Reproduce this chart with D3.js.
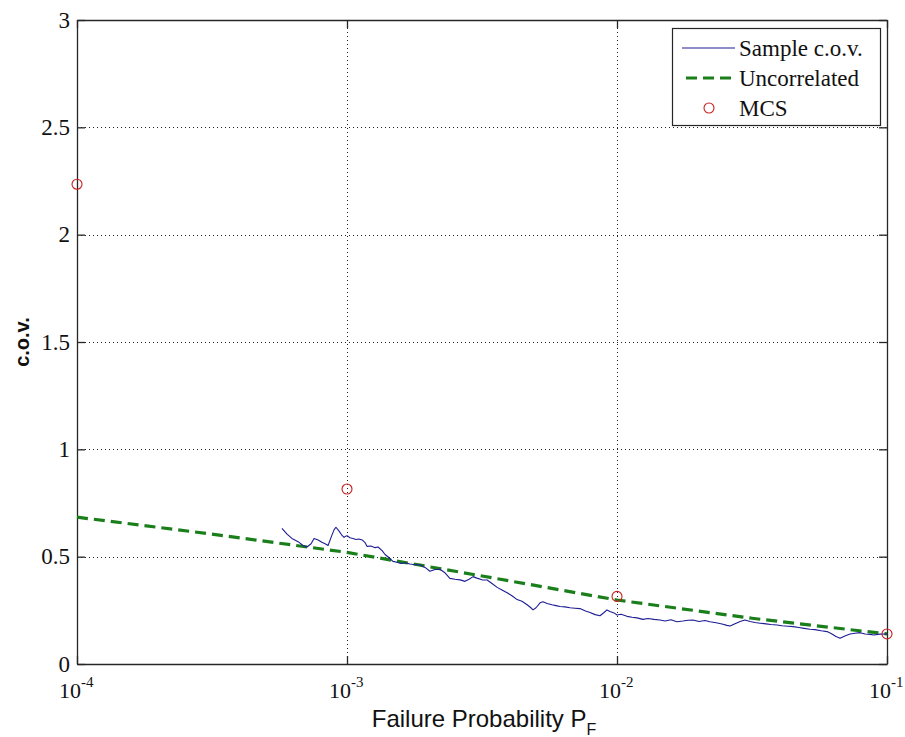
<!DOCTYPE html>
<html>
<head>
<meta charset="utf-8">
<script src="https://cdn.jsdelivr.net/npm/d3@7"></script>
<style>
  html, body { margin: 0; padding: 0; background: #fff; }
  svg { display: block; }
</style>
</head>
<body>
<svg id="chart" width="905" height="737"></svg>
<script>
// Sample c.o.v. of the failure probability estimator (exponent of P_F, c.o.v.)
const sampleLogPF = [
  -3.241, -3.222, -3.204, -3.181, -3.163, -3.148, -3.133, -3.122, -3.107, -3.093,
  -3.081, -3.070, -3.059, -3.048, -3.041, -3.030, -3.019, -3.011, -3.000, -2.989,
  -2.978, -2.967, -2.956, -2.944, -2.933, -2.926, -2.911, -2.896, -2.885, -2.870,
  -2.859, -2.844, -2.830, -2.815, -2.800, -2.785, -2.767, -2.748, -2.730, -2.711,
  -2.693, -2.674, -2.656, -2.637, -2.619, -2.600, -2.581, -2.563, -2.548, -2.533,
  -2.519, -2.500, -2.481, -2.463, -2.444, -2.426, -2.407, -2.389, -2.370, -2.352,
  -2.333, -2.319, -2.311, -2.300, -2.285, -2.274, -2.259, -2.241, -2.226, -2.211,
  -2.193, -2.174, -2.156, -2.137, -2.119, -2.100, -2.081, -2.063, -2.048, -2.037,
  -2.026, -2.011, -2.000, -1.985, -1.963, -1.944, -1.926, -1.904, -1.885, -1.863,
  -1.841, -1.822, -1.800, -1.778, -1.756, -1.737, -1.719, -1.696, -1.674, -1.656,
  -1.633, -1.611, -1.593, -1.581, -1.563, -1.544, -1.526, -1.507, -1.489, -1.470,
  -1.448, -1.430, -1.407, -1.389, -1.367, -1.348, -1.326, -1.307, -1.285, -1.267,
  -1.244, -1.222, -1.207, -1.189, -1.174, -1.156, -1.137, -1.119, -1.100, -1.081,
  -1.063, -1.048, -1.026, -1.000
];
const sampleCov = [
  0.632, 0.605, 0.585, 0.570, 0.552, 0.545, 0.560, 0.585, 0.578, 0.567,
  0.560, 0.552, 0.590, 0.625, 0.637, 0.620, 0.600, 0.590, 0.598, 0.588,
  0.585, 0.580, 0.582, 0.578, 0.565, 0.548, 0.550, 0.542, 0.545, 0.528,
  0.510, 0.495, 0.478, 0.474, 0.468, 0.472, 0.466, 0.462, 0.462, 0.450,
  0.432, 0.440, 0.441, 0.425, 0.399, 0.395, 0.392, 0.385, 0.395, 0.407,
  0.400, 0.392, 0.391, 0.375, 0.357, 0.345, 0.332, 0.318, 0.300, 0.292,
  0.276, 0.262, 0.252, 0.262, 0.285, 0.290, 0.282, 0.276, 0.272, 0.268,
  0.266, 0.262, 0.260, 0.258, 0.248, 0.240, 0.230, 0.225, 0.240, 0.252,
  0.245, 0.238, 0.228, 0.232, 0.222, 0.218, 0.215, 0.208, 0.212, 0.208,
  0.205, 0.200, 0.206, 0.197, 0.200, 0.204, 0.205, 0.198, 0.203, 0.197,
  0.192, 0.186, 0.180, 0.177, 0.188, 0.198, 0.205, 0.198, 0.193, 0.190,
  0.187, 0.184, 0.182, 0.178, 0.176, 0.174, 0.170, 0.166, 0.162, 0.160,
  0.155, 0.151, 0.142, 0.128, 0.120, 0.130, 0.140, 0.143, 0.146, 0.140,
  0.138, 0.135, 0.139, 0.140
];

// Uncorrelated-samples c.o.v.
const uncorrLogPF = [-4, -3.5, -3, -2.5, -2, -1.5, -1];
const uncorrCov   = [0.684, 0.605, 0.520, 0.410, 0.298, 0.213, 0.140];

// Direct Monte Carlo simulation results
const mcsPF  = [1e-4, 1e-3, 1e-2, 1e-1];
const mcsCov = [2.235, 0.815, 0.315, 0.140];

// Axis ticks
const xTickExps = [-4, -3, -2, -1];
const yTicks = [0, 0.5, 1, 1.5, 2, 2.5, 3];
const yTickLabels = ["0", "0.5", "1", "1.5", "2", "2.5", "3"];

const legendLabels = ["Sample c.o.v.", "Uncorrelated", "MCS"];

const W = 905, H = 737;
const margin = { top: 20, right: 18, bottom: 73, left: 77 };
const iw = W - margin.left - margin.right;
const ih = H - margin.top - margin.bottom;

const colBlue = "#1d1d94";
const colGreen = "#1a7f1a";
const colRed = "#c81e1e";
const colAxis = "#262626";
const serif = "'Liberation Serif', 'Times New Roman', serif";
const sans = "'Liberation Sans', Arial, sans-serif";

const svg = d3.select("#chart");
const g = svg.append("g").attr("transform", `translate(${margin.left},${margin.top})`);

const x = d3.scaleLog().domain([1e-4, 1e-1]).range([0, iw]);
const y = d3.scaleLinear().domain([0, 3]).range([ih, 0]);

const xTicks = xTickExps.map(e => Math.pow(10, e));

// Dotted grid
const grid = g.append("g").attr("stroke", "#222").attr("stroke-width", 1)
  .attr("stroke-dasharray", "1,3").attr("fill", "none");
grid.selectAll("line.gx").data(xTicks.slice(1, -1)).join("line")
  .attr("x1", d => Math.round(x(d)) + 0.5).attr("x2", d => Math.round(x(d)) + 0.5)
  .attr("y1", 0).attr("y2", ih);
grid.selectAll("line.gy").data(yTicks.slice(1, -1)).join("line")
  .attr("x1", 0).attr("x2", iw)
  .attr("y1", d => Math.round(y(d)) + 0.5).attr("y2", d => Math.round(y(d)) + 0.5);

// Axes (inward ticks, MATLAB style)
const tickLen = 8;
const xAxisBottom = d3.axisBottom(x).tickValues(xTicks).tickSizeInner(-tickLen).tickSizeOuter(0).tickFormat("");
const xAxisTop = d3.axisTop(x).tickValues(xTicks).tickSizeInner(-tickLen).tickSizeOuter(0).tickFormat("");
const yAxisLeft = d3.axisLeft(y).tickValues(yTicks).tickSizeInner(-tickLen).tickSizeOuter(0).tickFormat("");
const yAxisRight = d3.axisRight(y).tickValues(yTicks).tickSizeInner(-tickLen).tickSizeOuter(0).tickFormat("");

function styleAxis(sel) {
  sel.selectAll("path, line").attr("stroke", colAxis).attr("stroke-width", 1.3);
}
g.append("g").attr("transform", `translate(0,${ih})`).call(xAxisBottom).call(styleAxis);
g.append("g").call(xAxisTop).call(styleAxis);
g.append("g").call(yAxisLeft).call(styleAxis);
g.append("g").attr("transform", `translate(${iw},0)`).call(yAxisRight).call(styleAxis);

// Y tick labels
g.append("g").selectAll("text").data(yTicks).join("text")
  .attr("x", -7).attr("y", d => y(d)).attr("dy", "0.33em")
  .attr("text-anchor", "end")
  .attr("font-family", serif).attr("font-size", 23).attr("fill", "#111")
  .text((d, i) => yTickLabels[i]);

// X tick labels: 10 with superscript exponent
const xl = g.append("g").selectAll("text").data(xTickExps).join("text")
  .attr("x", d => x(Math.pow(10, d)) - 18).attr("y", ih + 34)
  .attr("font-family", serif).attr("font-size", 22).attr("fill", "#111");
xl.append("tspan").text("10");
xl.append("tspan").attr("font-size", 15).attr("dy", -11).text(d => String(d).replace("-", "-"));

// Axis titles
const xt = svg.append("text")
  .attr("x", margin.left + iw / 2 + 2).attr("y", H - 10)
  .attr("text-anchor", "middle")
  .attr("font-family", sans).attr("font-size", 24).attr("fill", "#111");
xt.append("tspan").text("Failure Probability P");
xt.append("tspan").attr("font-size", 16).attr("dy", 8).text("F");

svg.append("text")
  .attr("transform", `translate(29,${margin.top + ih / 2}) rotate(-90)`)
  .attr("text-anchor", "middle")
  .attr("font-family", sans).attr("font-size", 20).attr("font-weight", "bold").attr("fill", "#111")
  .text("c.o.v.");

// Clip region for data
svg.append("defs").append("clipPath").attr("id", "plotclip")
  .append("rect").attr("x", -2).attr("y", -2).attr("width", iw + 4).attr("height", ih + 4);
const plot = g.append("g").attr("clip-path", "url(#plotclip)");

// Uncorrelated c.o.v. (dashed)
const uncorrData = uncorrLogPF.map((e, i) => [Math.pow(10, e), uncorrCov[i]]);
plot.append("path").datum(uncorrData)
  .attr("fill", "none").attr("stroke", colGreen).attr("stroke-width", 3.2)
  .attr("stroke-dasharray", "11,6")
  .attr("d", d3.line().x(d => x(d[0])).y(d => y(d[1])));

// Sample c.o.v.
const sampleData = sampleLogPF.map((e, i) => [Math.pow(10, e), sampleCov[i]]);
plot.append("path").datum(sampleData)
  .attr("fill", "none").attr("stroke", colBlue).attr("stroke-width", 1.1)
  .attr("stroke-linejoin", "round")
  .attr("d", d3.line().x(d => x(d[0])).y(d => y(d[1])));

// MCS markers
g.append("g").selectAll("circle").data(mcsPF).join("circle")
  .attr("cx", d => x(d)).attr("cy", (d, i) => y(mcsCov[i])).attr("r", 5)
  .attr("fill", "none").attr("stroke", colRed).attr("stroke-width", 1.1);

// Legend
const lg = svg.append("g");
lg.append("rect").attr("x", 672.5).attr("y", 28.5).attr("width", 208).attr("height", 97)
  .attr("fill", "#fff").attr("stroke", colAxis).attr("stroke-width", 1.2);
const rowY = [48, 78, 108];
lg.append("line").attr("x1", 682).attr("x2", 735).attr("y1", rowY[0]).attr("y2", rowY[0])
  .attr("stroke", colBlue).attr("stroke-width", 1.1);
lg.append("line").attr("x1", 686).attr("x2", 735).attr("y1", rowY[1]).attr("y2", rowY[1])
  .attr("stroke", colGreen).attr("stroke-width", 3.2).attr("stroke-dasharray", "11,6");
lg.append("circle").attr("cx", 709).attr("cy", rowY[2]).attr("r", 5)
  .attr("fill", "none").attr("stroke", colRed).attr("stroke-width", 1.1);
lg.selectAll("text").data(legendLabels).join("text")
  .attr("x", 739).attr("y", (d, i) => rowY[i]).attr("dy", "0.33em")
  .attr("font-family", serif).attr("font-size", 23).attr("fill", "#111")
  .text(d => d);
</script>
</body>
</html>
